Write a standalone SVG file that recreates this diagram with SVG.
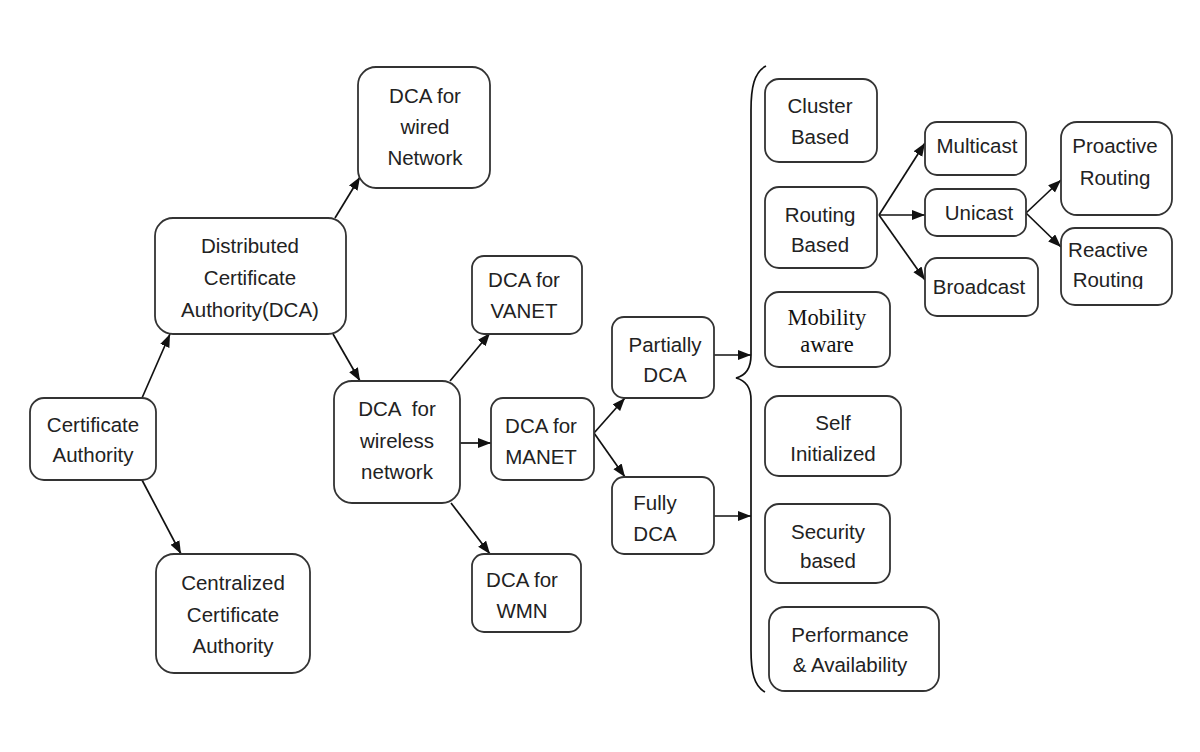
<svg xmlns="http://www.w3.org/2000/svg" width="1200" height="752" viewBox="0 0 1200 752">
<style>
.box{fill:#fff;stroke:#333;stroke-width:1.8}
.t{font-family:"Liberation Sans",Arial,sans-serif;font-size:20.5px;fill:#222;text-anchor:middle}
.s{font-family:"Liberation Serif","Times New Roman",serif;font-size:22.5px;fill:#111;text-anchor:middle}
.c{stroke:#111;stroke-width:1.7;fill:none}
</style>
<defs>
<marker id="ah" markerUnits="userSpaceOnUse" markerWidth="14" markerHeight="11" refX="13" refY="5" orient="auto"><path d="M0,0 L13,5 L0,10 z" fill="#111"/></marker>
<clipPath id="clipR"><rect x="1061" y="228" width="111" height="61"/></clipPath>
</defs>
<rect width="1200" height="752" fill="#fff"/>
<g id="connectors">
<path class="c" d="M142,398 L170,334" marker-end="url(#ah)"/>
<path class="c" d="M142,480 L181,554" marker-end="url(#ah)"/>
<path class="c" d="M335,218 L360,177" marker-end="url(#ah)"/>
<path class="c" d="M333,334 L360,381" marker-end="url(#ah)"/>
<path class="c" d="M450,381 L490,333" marker-end="url(#ah)"/>
<path class="c" d="M460,443 L491,443" marker-end="url(#ah)"/>
<path class="c" d="M451,503 L490,554" marker-end="url(#ah)"/>
<path class="c" d="M594,433 L625,398" marker-end="url(#ah)"/>
<path class="c" d="M594,433 L625,477" marker-end="url(#ah)"/>
<path class="c" d="M714,355 L751,355" marker-end="url(#ah)"/>
<path class="c" d="M714,516 L751,516" marker-end="url(#ah)"/>
<path class="c" d="M879,215 L925,143" marker-end="url(#ah)"/>
<path class="c" d="M879,215 L925,215" marker-end="url(#ah)"/>
<path class="c" d="M879,215 L925,280" marker-end="url(#ah)"/>
<path class="c" d="M1026,213 L1061,180" marker-end="url(#ah)"/>
<path class="c" d="M1026,213 L1061,247" marker-end="url(#ah)"/>
<path id="brace" class="c" d="M766,66 C754,72 751,88 751,110 L751,355 C751,370 744,376 736,378 C744,380 751,386 751,400 L751,650 C751,672 754,686 765,692"/>
</g>
<g id="n-ca"><rect class="box" x="30" y="398" width="126" height="82" rx="14"/><text class="t" x="93" y="432">Certificate</text><text class="t" x="93" y="462">Authority</text></g>
<g id="n-dca"><rect class="box" x="155" y="218" width="191" height="116" rx="18"/><text class="t" x="250" y="253">Distributed</text><text class="t" x="250" y="285">Certificate</text><text class="t" x="250" y="317">Authority(DCA)</text></g>
<g id="n-wired"><rect class="box" x="358" y="67" width="132" height="121" rx="18"/><text class="t" x="425" y="103">DCA for</text><text class="t" x="425" y="134">wired</text><text class="t" x="425" y="165">Network</text></g>
<g id="n-central"><rect class="box" x="156" y="554" width="154" height="119" rx="18"/><text class="t" x="233" y="590">Centralized</text><text class="t" x="233" y="622">Certificate</text><text class="t" x="233" y="653">Authority</text></g>
<g id="n-wireless"><rect class="box" x="334" y="381" width="126" height="122" rx="18"/><text class="t" x="397" y="416" xml:space="preserve">DCA  for</text><text class="t" x="397" y="448">wireless</text><text class="t" x="397" y="479">network</text></g>
<g id="n-vanet"><rect class="box" x="472" y="256" width="110" height="78" rx="12"/><text class="t" x="524" y="287">DCA for</text><text class="t" x="524" y="318">VANET</text></g>
<g id="n-manet"><rect class="box" x="491" y="398" width="103" height="82" rx="12"/><text class="t" x="541" y="433">DCA for</text><text class="t" x="541" y="464">MANET</text></g>
<g id="n-wmn"><rect class="box" x="472" y="554" width="109" height="78" rx="12"/><text class="t" x="522" y="587">DCA for</text><text class="t" x="522" y="618">WMN</text></g>
<g id="n-partial"><rect class="box" x="612" y="317" width="102" height="81" rx="12"/><text class="t" x="665" y="352">Partially</text><text class="t" x="665" y="382">DCA</text></g>
<g id="n-fully"><rect class="box" x="612" y="477" width="102" height="77" rx="12"/><text class="t" x="655" y="510">Fully</text><text class="t" x="655" y="541">DCA</text></g>
<g id="n-cluster"><rect class="box" x="765" y="79" width="112" height="83" rx="14"/><text class="t" x="820" y="113">Cluster</text><text class="t" x="820" y="144">Based</text></g>
<g id="n-routing"><rect class="box" x="765" y="187" width="112" height="81" rx="14"/><text class="t" x="820" y="222">Routing</text><text class="t" x="820" y="252">Based</text></g>
<g id="n-mobility"><rect class="box" x="765" y="292" width="125" height="75" rx="14"/><text class="s" x="827" y="325">Mobility</text><text class="s" x="827" y="352">aware</text></g>
<g id="n-multicast"><rect class="box" x="925" y="122" width="101" height="53" rx="12"/><text class="t" x="977" y="153">Multicast</text></g>
<g id="n-unicast"><rect class="box" x="925" y="189" width="101" height="47" rx="12"/><text class="t" x="979" y="220">Unicast</text></g>
<g id="n-broadcast"><rect class="box" x="925" y="258" width="113" height="58" rx="12"/><text class="t" x="979" y="294">Broadcast</text></g>
<g id="n-proactive"><rect class="box" x="1061" y="122" width="111" height="93" rx="16"/><text class="t" x="1115" y="153">Proactive</text><text class="t" x="1115" y="185">Routing</text></g>
<g id="n-reactive"><rect class="box" x="1061" y="228" width="111" height="77" rx="14"/><text class="t" x="1108" y="257">Reactive</text><text class="t" x="1108" y="287" clip-path="url(#clipR)">Routing</text></g>
<g id="n-self"><rect class="box" x="765" y="396" width="136" height="80" rx="14"/><text class="t" x="833" y="430">Self</text><text class="t" x="833" y="461">Initialized</text></g>
<g id="n-security"><rect class="box" x="765" y="504" width="125" height="79" rx="14"/><text class="t" x="828" y="539">Security</text><text class="t" x="828" y="568">based</text></g>
<g id="n-perf"><rect class="box" x="769" y="607" width="170" height="84" rx="16"/><text class="t" x="850" y="642">Performance</text><text class="t" x="850" y="672">&amp; Availability</text></g>
</svg>
